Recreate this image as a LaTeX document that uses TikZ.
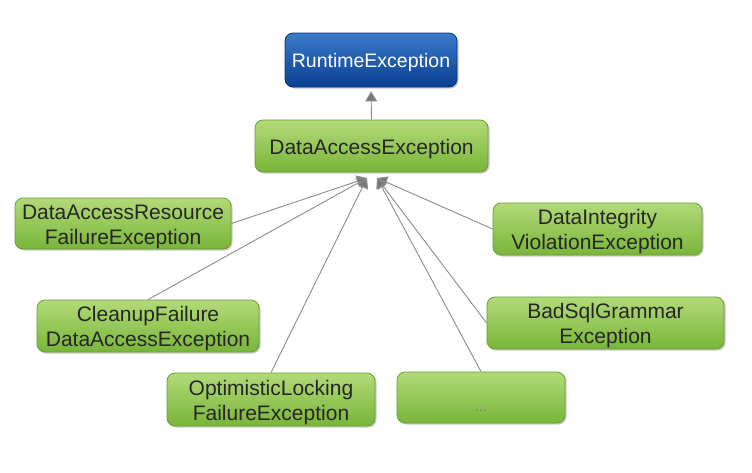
\documentclass[tikz,border=0pt]{standalone}
\usepackage{fontspec}
\setmainfont{Liberation Sans}
\usetikzlibrary{arrows.meta,shadows}
\definecolor{blueT}{HTML}{3A7BC8}
\definecolor{blueB}{HTML}{0B3F91}
\definecolor{blueD}{HTML}{0A3478}
\definecolor{greenT}{HTML}{B2DA78}
\definecolor{greenB}{HTML}{79B53A}
\definecolor{greenD}{HTML}{6A9E35}
\definecolor{txt}{HTML}{262626}
\definecolor{lineC}{HTML}{8C8C8C}
\definecolor{headC}{HTML}{787878}
\newcommand\boxtxt[2][-3pt]{\raisebox{#1}[\height][\depth]{\begin{tabular}{@{}c@{}}#2\end{tabular}}}
\tikzset{
  x=1pt,y=-1pt,
  box/.style={rounded corners=8pt, inner sep=0pt,
    font=\fontsize{21}{25}\selectfont,
    drop shadow={shadow xshift=1.5pt,shadow yshift=-1.5pt,opacity=0.35,fill=black!60}},
  greenbox/.style={box, draw=greenD, line width=0.8pt, top color=greenT, bottom color=greenB, text=txt},
  bluebox/.style={box, draw=blueD, line width=0.8pt, top color=blueT, bottom color=blueB, text=white,
    font=\fontsize{19.5}{23}\selectfont},
  conn/.style={draw=lineC, line width=0.9pt, -{Triangle[width=12pt,length=10pt,fill=headC]}},
}
\begin{document}
\begin{tikzpicture}
\useasboundingbox (0,0) rectangle (752,472);
\fill[white] (0,0) rectangle (752,472);
\node[bluebox, minimum width=172pt, minimum height=54pt] (rt) at (371,60) {\boxtxt{RuntimeException}};
\node[greenbox, minimum width=233pt, minimum height=52pt] (dae) at (371.5,146) {\boxtxt{DataAccessException}};
\node[greenbox, minimum width=216pt, minimum height=51pt] (dar) at (123,223.5) {\boxtxt{DataAccessResource\\FailureException}};
\node[greenbox, minimum width=222pt, minimum height=52pt] (cf) at (148,326) {\boxtxt{CleanupFailure\\DataAccessException}};
\node[greenbox, minimum width=208pt, minimum height=53pt] (ol) at (271,399.5) {\boxtxt{OptimisticLocking\\FailureException}};
\node[greenbox, minimum width=209pt, minimum height=52pt] (di) at (597.5,229) {\boxtxt{DataIntegrity\\ViolationException}};
\node[greenbox, minimum width=237pt, minimum height=52pt] (bs) at (605.5,323) {\boxtxt{BadSqlGrammar\\Exception}};
\node[greenbox, minimum width=168pt, minimum height=51pt] (dots) at (481,397.5) {\boxtxt[-9pt]{\fontsize{14}{16}\selectfont\color{txt!60}...}};
\coordinate (hl) at (367,178);
\coordinate (hr) at (377,178);
\draw[conn, shorten >=4pt] (dae.north) -- (rt.south);
\draw[conn] (dar.east) -- (hl);
\draw[conn] (cf.north) -- (hl);
\draw[conn] (ol.north) -- (hl);
\draw[conn] (di.west) -- (hr);
\draw[conn] (bs.west) -- (hr);
\draw[conn] (dots.north) -- (hr);
\end{tikzpicture}
\end{document}
